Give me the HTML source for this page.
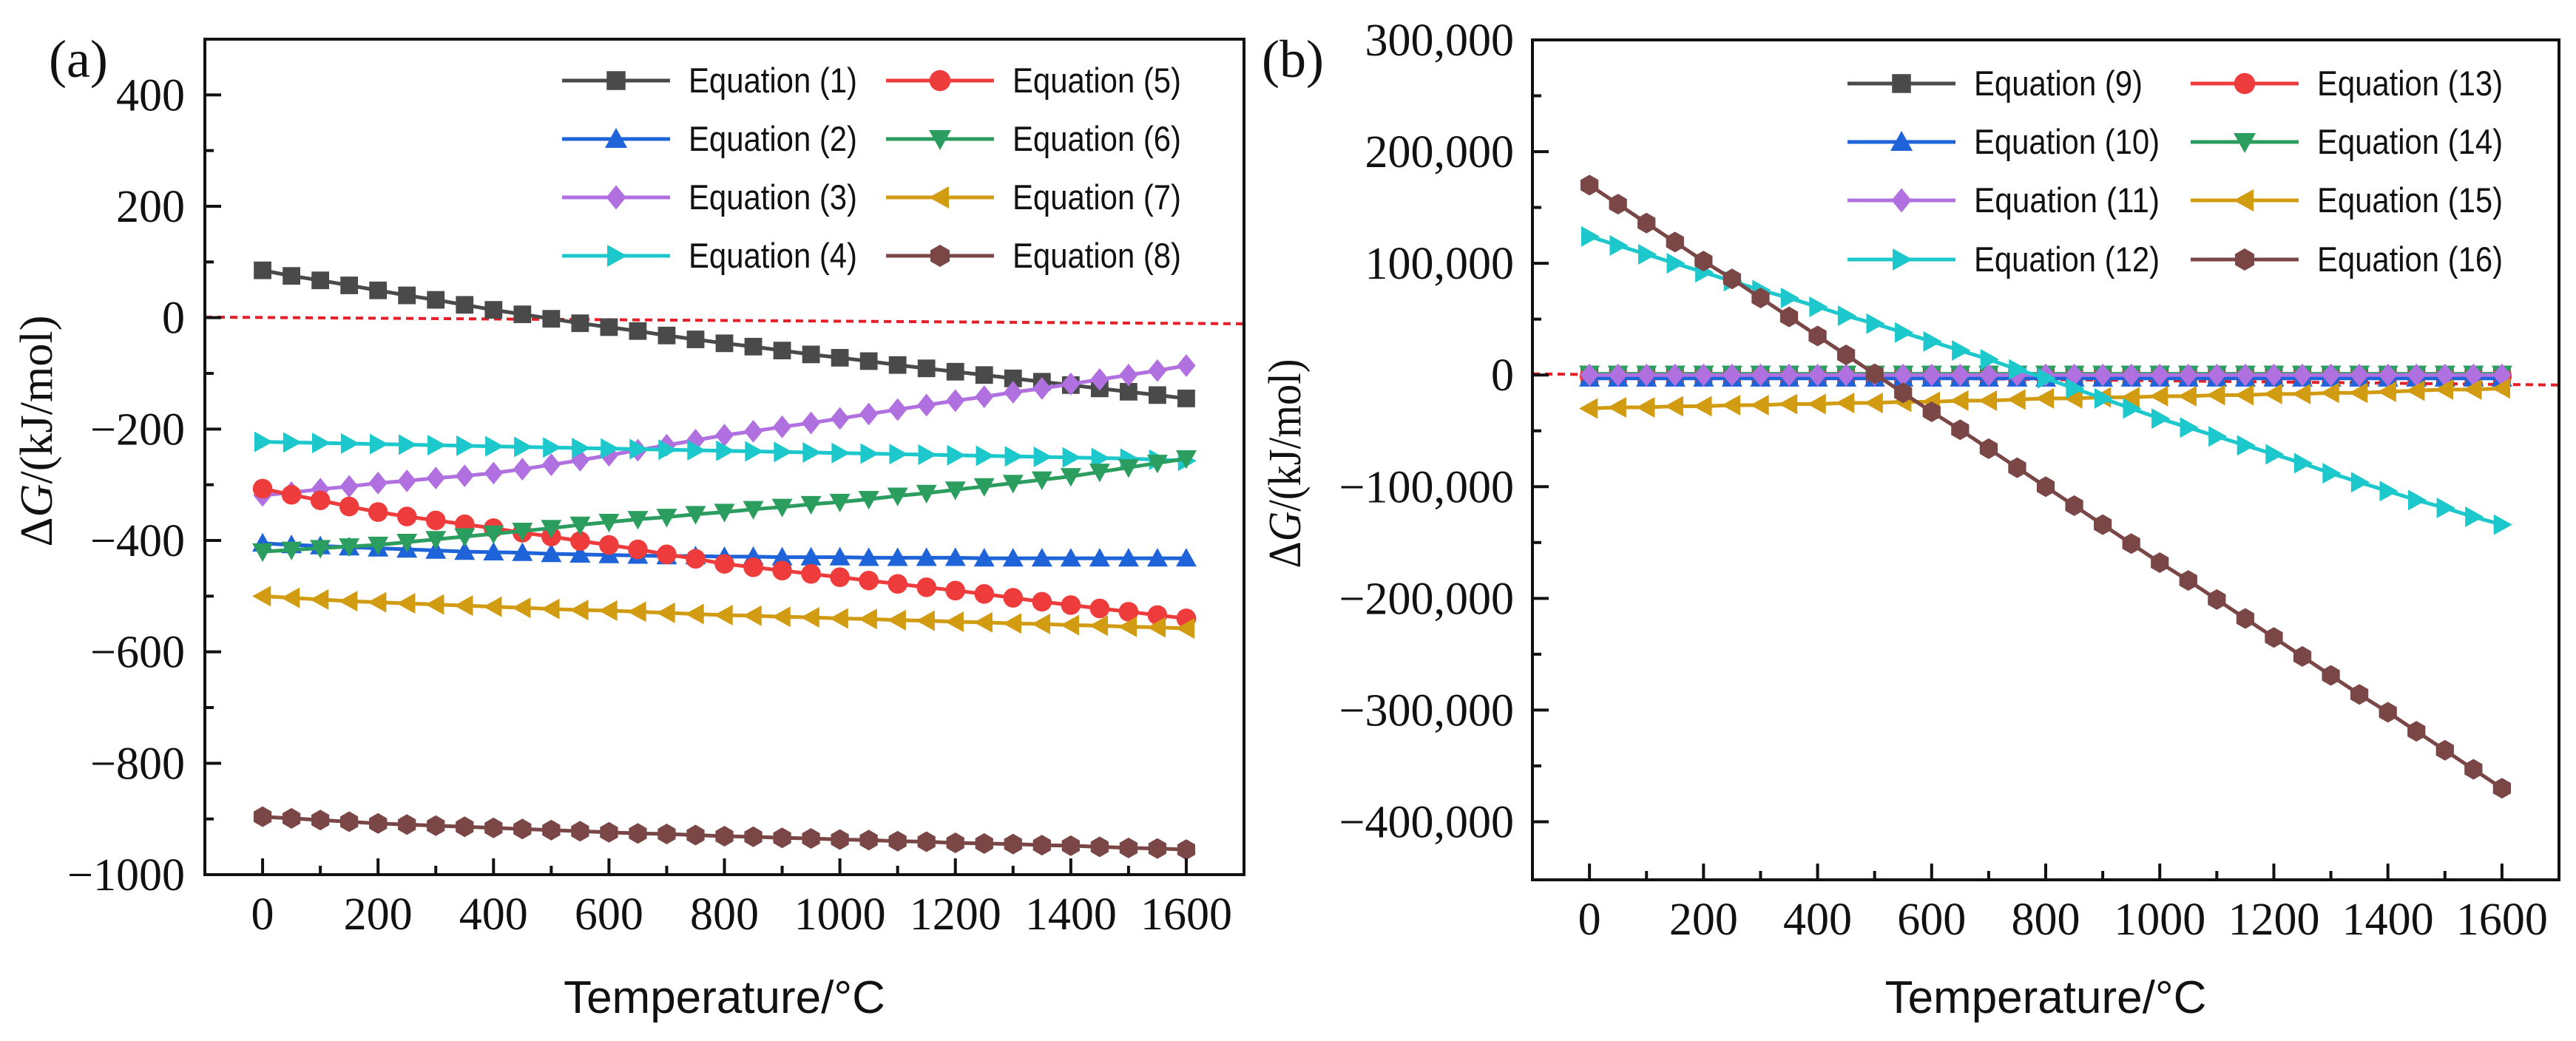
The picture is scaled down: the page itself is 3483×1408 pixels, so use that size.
<!DOCTYPE html>
<html><head><meta charset="utf-8">
<style>
html,body{margin:0;padding:0;background:#fff;}
svg{display:block;}
.tick{font-family:"Liberation Serif",serif;font-size:62px;fill:#111;}
.plab{font-family:"Liberation Serif",serif;font-size:72px;fill:#111;}
.leg{font-family:"Liberation Sans",sans-serif;font-size:47px;fill:#111;}
.xt{font-family:"Liberation Sans",sans-serif;font-size:62px;fill:#111;}
.yt{font-family:"Liberation Serif",serif;font-size:62px;fill:#111;}
</style></head>
<body>
<svg id="fig" width="3483" height="1408" viewBox="0 0 3483 1408" xmlns="http://www.w3.org/2000/svg">
<rect width="3483" height="1408" fill="#fff"/>
</svg>
<script>
const temps = [0,50,100,150,200,250,300,350,400,450,500,550,600,650,700,750,800,850,900,950,1000,1050,1100,1150,1200,1250,1300,1350,1400,1450,1500,1550,1600];
const xTicks = [0,200,400,600,800,1000,1200,1400,1600];
// Panel (a), kJ/mol
const eq1 = [85,75,67,58,49,40,32,23,14,6,-2,-10,-17,-24,-32,-39,-46,-52,-59,-66,-72,-78,-85,-91,-97,-103,-109,-115,-121,-127,-133,-139,-145];
const eq2 = [-405,-408,-410,-412,-414,-416,-418,-420,-421,-422,-424,-425,-426,-427,-428,-428,-429,-429,-430,-430,-430,-431,-431,-431,-431,-432,-432,-432,-432,-432,-432,-432,-432];
const eq3 = [-319,-314,-308,-303,-297,-293,-288,-284,-279,-272,-264,-256,-247,-238,-229,-220,-211,-204,-196,-189,-181,-173,-165,-157,-149,-142,-134,-127,-119,-111,-103,-95,-86];
const eq4 = [-223,-224,-225,-226,-227,-228,-229,-230,-231,-232,-233,-234,-235,-236,-237,-238,-239,-240,-241,-242,-243,-244,-245,-246,-247,-248,-249,-250,-251,-252,-253,-255,-257];
const eq5 = [-307,-318,-328,-339,-349,-357,-364,-371,-378,-386,-393,-401,-408,-416,-425,-433,-442,-448,-454,-460,-466,-472,-478,-484,-490,-496,-503,-510,-516,-522,-528,-534,-540];
const eq6 = [-420,-417,-414,-411,-408,-403,-398,-393,-388,-383,-378,-372,-367,-362,-358,-353,-349,-344,-340,-335,-331,-326,-320,-315,-309,-303,-297,-291,-285,-277,-269,-261,-253];
const eq7 = [-500,-503,-506,-509,-511,-513,-515,-517,-519,-521,-523,-525,-526,-528,-530,-532,-534,-535,-537,-538,-540,-541,-543,-544,-546,-547,-549,-550,-552,-553,-555,-556,-558];
const eq8 = [-896,-899,-902,-905,-908,-910,-912,-914,-916,-918,-920,-922,-924,-926,-927,-929,-931,-932,-934,-935,-937,-938,-940,-941,-943,-944,-945,-947,-948,-950,-952,-953,-955];
const aYTicks = [400,200,0,-200,-400,-600,-800,-1000];
const aYLabels = ["400","200","0","\u2212200","\u2212400","\u2212600","\u2212800","\u22121000"];
const aRef = [1,-11];
// Panel (b), kJ/mol
const eq9 = [-1,-1,-1,-1,-1,-1,-1,-1,-1,-1,-1,-1,-1,-1,-1,-1,-1,-1,-1,-1,-1,-1,-1,-1,-1,-1,-1,-1,-1,-1,-1,-1,-1].map(v=>v*1000);
const eq10 = [-3,-3,-3,-3,-3,-3,-3,-3,-3,-3,-3,-3,-3,-3,-3,-3,-3,-3,-3,-3,-3,-3,-3,-3,-3,-3,-3,-3,-3,-3,-3,-3,-3].map(v=>v*1000);
const eq11 = [0,0,0,0,0,0,0,0,0,0,0,0,0,0,0,0,0,0,0,0,0,0,0,0,0,0,0,0,0,0,0,0,0].map(v=>v*1000);
const eq12 = [124,116,108,100,92,84,76,69,61,53,46,38,30,22,14,5,-3,-12,-21,-30,-39,-47,-55,-63,-71,-79,-88,-96,-104,-112,-119,-127,-134].map(v=>v*1000);
const eq13 = [-1,-1,-1,-1,-1,-1,-1,-1,-1,-1,-1,-1,-1,-1,-1,-1,-1,-1,-1,-1,-1,-1,-1,-1,-1,-1,-1,-1,-1,-1,-1,-1,-1].map(v=>v*1000);
const eq14 = [1,1,1,1,1,1,1,1,1,1,1,1,1,1,1,1,1,1,1,1,1,1,1,1,1,1,1,1,1,1,1,1,1].map(v=>v*1000);
const eq15 = [-30,-29,-29,-28,-28,-27,-27,-26,-26,-25,-25,-24,-24,-23,-23,-22,-21,-21,-20,-20,-19,-19,-18,-18,-17,-17,-16,-16,-15,-14,-13,-13,-12].map(v=>v*1000);
const eq16 = [170,153,136,119,102,86,69,52,35,18,1,-16,-33,-49,-66,-83,-100,-117,-134,-151,-168,-184,-201,-218,-235,-252,-269,-286,-302,-319,-336,-353,-370].map(v=>v*1000);
const bYTicks = [300000,200000,100000,0,-100000,-200000,-300000,-400000];
const bYLabels = ["300,000","200,000","100,000","0","\u2212100,000","\u2212200,000","\u2212300,000","\u2212400,000"];
const bRef = [1000,-9000];

const NS = "http://www.w3.org/2000/svg";
const svg = document.getElementById('fig');
function mk(tag, attrs, parent){
  const e = document.createElementNS(NS, tag);
  for (const k in attrs) e.setAttribute(k, attrs[k]);
  (parent||svg).appendChild(e);
  return e;
}
const colors = ['#4a4a4a','#1f63d8','#b070e0','#1cc8cc','#ee3b3b','#2b9e5f','#d19b12','#7a4646'];
const shapes = ['square','up','diamond','right','circle','down','left','hex'];

function marker(g, shape, cx, cy, r, color){
  let e;
  if (shape==='square') e = mk('rect',{x:cx-r*0.85,y:cy-r*0.85,width:r*1.7,height:r*1.7,fill:color},g);
  else if (shape==='circle') e = mk('circle',{cx:cx,cy:cy,r:r*0.95,fill:color},g);
  else {
    let pts;
    if (shape==='up') pts=[[0,-r],[r,r*0.8],[-r,r*0.8]];
    else if (shape==='down') pts=[[0,r],[r,-r*0.8],[-r,-r*0.8]];
    else if (shape==='left') pts=[[-r,0],[r*0.8,-r],[r*0.8,r]];
    else if (shape==='right') pts=[[r,0],[-r*0.8,-r],[-r*0.8,r]];
    else if (shape==='diamond') pts=[[0,-r*1.1],[r*0.9,0],[0,r*1.1],[-r*0.9,0]];
    else { pts=[]; for(let i=0;i<6;i++){const a=Math.PI/6+i*Math.PI/3; pts.push([r*Math.cos(a),r*Math.sin(a)]);} }
    e = mk('polygon',{points:pts.map(p=>(cx+p[0])+','+(cy+p[1])).join(' '),fill:color},g);
  }
  return e;
}

function panel(cfg){
  const L=cfg.L,R=cfg.R,T=cfg.T,B=cfg.B;
  const sx = v => L + (v - cfg.xmin)/(cfg.xmax-cfg.xmin)*(R-L);
  const sy = v => T + (cfg.ymax - v)/(cfg.ymax-cfg.ymin)*(B-T);
  const g = mk('g',{});
  
  
  const ref = mk('line',{x1:L,y1:sy(cfg.ref[0]),x2:R,y2:sy(cfg.ref[1]),stroke:'#e61e28','stroke-width':4,'stroke-dasharray':'10 7'},g);
  
  
  cfg.order.forEach(i=>{
    const s = cfg.series[i];
    const sg = mk('g',{},g);
    
    
    const d = s.data.map((v,j)=>(j?'L':'M')+sx(temps[j])+' '+sy(v)).join(' ');
    mk('path',{d:d,fill:'none',stroke:colors[i],'stroke-width':5},sg);
    s.data.forEach((v,j)=>{
      const m = marker(sg, shapes[i], sx(temps[j]), sy(v), 14, colors[i]);
      
      
    });
  });
  const fr = mk('rect',{x:L,y:T,width:R-L,height:B-T,fill:'none',stroke:'#111','stroke-width':4},g);
  
  
  for (let v=0; v<=1600; v+=100){
    const major = v%200===0;
    mk('line',{x1:sx(v),y1:B,x2:sx(v),y2:B-(major?22:12),stroke:'#111','stroke-width':4},g);
  }
  xTicks.forEach(v=>{
    const t = mk('text',{x:sx(v),y:cfg.xlabY,'text-anchor':'middle',class:'tick'},g);
    t.textContent = String(v);
    
    
  });
  const step = cfg.yTicks[0]-cfg.yTicks[1];
  for (let v=cfg.yTicks[cfg.yTicks.length-1]; v<=cfg.ymax; v+=step/2){
    const major = Math.abs(((v-cfg.yTicks[0])/step) - Math.round((v-cfg.yTicks[0])/step))<1e-6;
    mk('line',{x1:L,y1:sy(v),x2:L+(major?22:12),y2:sy(v),stroke:'#111','stroke-width':4},g);
  }
  cfg.yTicks.forEach((v,i)=>{
    const t = mk('text',{x:cfg.ylabX,y:sy(v)+21,'text-anchor':'end',class:'tick'},g);
    t.textContent = cfg.yLabels[i];
    
    
  });
  const xt = mk('text',{x:(L+R)/2,y:1370,'text-anchor':'middle',class:'xt'},g);
  xt.textContent = 'Temperature/°C';
  
  
  const yt = mk('text',{x:0,y:0,'text-anchor':'middle',class:'yt',transform:'translate('+(cfg.ytX)+','+cfg.ytY+') rotate(-90)',textLength:cfg.ytLen,lengthAdjust:'spacingAndGlyphs'},g);
  yt.innerHTML = '\u0394<tspan font-style="italic">G</tspan>/(kJ/mol)';
  
  
  const pl = mk('text',{x:cfg.plX,y:104,class:'plab'},g);
  pl.textContent = cfg.plabel;
  
  
  const lg = mk('g',{},g);
  
  
  cfg.series.forEach((s,i)=>{
    const col = i<4?0:1, row = i%4;
    const x0 = cfg.legX[col], y = cfg.legY[row];
    const eg = mk('g',{},lg);
    
    
    mk('line',{x1:x0,y1:y,x2:x0+146,y2:y,stroke:colors[i],'stroke-width':5},eg);
    marker(eg, shapes[i], x0+73, y, 15, colors[i]);
    const len = String(s.label).length>1 ? 251 : 228;
    const t = mk('text',{x:x0+171,y:y+16,class:'leg',textLength:len,lengthAdjust:'spacingAndGlyphs'},eg);
    t.textContent = 'Equation  ('+s.label+')';
  });
}

panel({name:'panel-a', L:277,R:1682,T:53,B:1183, xmin:-100,xmax:1700, ymin:-1000,ymax:500,
  yTicks:aYTicks, yLabels:aYLabels, ref:aRef, ylabX:250, xlabY:1257,
  ytX:70, ytY:583, ytLen:313, plX:66, plabel:'(a)',
  legX:[760,1198], legY:[109,188,267,346], order:[0,1,2,3,4,5,6,7],
  series:[{label:1,data:eq1},{label:2,data:eq2},{label:3,data:eq3},{label:4,data:eq4},{label:5,data:eq5},{label:6,data:eq6},{label:7,data:eq7},{label:8,data:eq8}]});

panel({name:'panel-b', L:2072,R:3460,T:54,B:1190, xmin:-100,xmax:1700, ymin:-452000,ymax:300000,
  yTicks:bYTicks, yLabels:bYLabels, ref:bRef, ylabX:2047, xlabY:1264,
  ytX:1758, ytY:627, ytLen:283, plX:1706, plabel:'(b)',
  legX:[2498,2962], legY:[113,192,271,351], order:[0,4,5,1,2,6,3,7],
  series:[{label:9,data:eq9},{label:10,data:eq10},{label:11,data:eq11},{label:12,data:eq12},{label:13,data:eq13},{label:14,data:eq14},{label:15,data:eq15},{label:16,data:eq16}]});
</script>
</body></html>
